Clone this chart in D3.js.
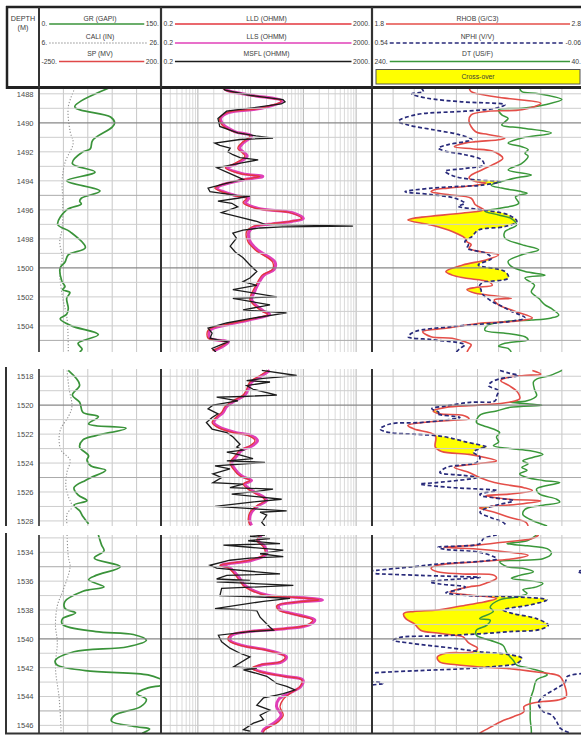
<!DOCTYPE html>
<html>
<head>
<meta charset="utf-8">
<script src="https://cdn.jsdelivr.net/npm/d3@7"></script>
<style>
  html, body { margin: 0; padding: 0; background: #fff; }
  svg { display: block; font-family: "Liberation Sans", Arial, sans-serif; }
</style>
</head>
<body>
<svg id="chart" width="581" height="735"></svg>
<script>
// depth window of each of the three log sections (m)
const DEPTH_RANGES = [[1487.6, 1505.8], [1517.5, 1528.35], [1532.8, 1546.6]];

// header: [mnemonic, left scale, right scale]
const HEAD_T1 = [["GR (GAPI)", "0.", "150."], ["CALI (IN)", "6.", "26."], ["SP (MV)", "-250.", "200."]];
const HEAD_T2 = [["LLD (OHMM)", "0.2", "2000."], ["LLS (OHMM)", "0.2", "2000."], ["MSFL (OHMM)", "0.2", "2000."]];
const HEAD_T3 = [["RHOB (G/C3)", "1.8", "2.8"], ["NPHI (V/V)", "0.54", "-0.06"], ["DT (US/F)", "240.", "40."]];

// ---- section 1 : [depth, value]
const GR_1 = [[1487.6,86],[1488.9,44],[1489.6,88],[1490.0,93],[1490.3,90],[1491.2,66],[1491.8,63],[1492.0,54],[1492.8,41],[1493.4,69],[1494.0,34],[1494.7,75],[1495.2,52],[1495.4,50],[1495.6,52],[1496.0,34],[1497.0,23],[1497.5,38],[1498.6,57],[1499.1,36],[1499.6,32],[1500.0,26],[1500.9,28],[1501.3,32],[1501.5,29],[1501.7,38],[1502.1,34],[1502.8,36],[1503.2,34],[1503.5,26],[1504.0,40],[1504.6,73],[1505.2,48],[1505.6,53],[1505.8,50]];
const CALI_1 = [[1487.6,11.9],[1488.9,10.8],[1490.6,11.1],[1491.4,11.6],[1492.7,10.3],[1493.9,9.8],[1495.4,9.9],[1497.3,9.8],[1498.2,9.4],[1499.3,9.8],[1500.3,9.4],[1502.1,9.9],[1503.5,10.6],[1505.8,10.8]];
const LLD_1 = [[1487.6,3.0],[1487.75,3.3],[1488.1,9.7],[1488.5,38],[1489.0,15.1],[1489.3,3.5],[1489.7,2.6],[1490.1,2.8],[1490.6,4.6],[1490.9,9.7],[1491.4,6.7],[1491.75,5.7],[1492.3,7.8],[1492.9,4.4],[1493.1,3.3],[1493.5,6.3],[1493.7,15],[1493.9,7.2],[1494.3,2.6],[1494.5,2.1],[1495.0,4.6],[1495.2,8.4],[1495.5,7.2],[1495.9,12.6],[1496.2,56],[1496.6,93],[1496.8,56],[1497.0,20],[1497.15,11],[1497.5,8.4],[1498.2,8.9],[1498.8,12.6],[1499.6,26],[1500.1,26],[1500.5,16.5],[1501.2,12.6],[1501.6,11],[1502.2,9.7],[1503.0,16.5],[1503.2,21],[1503.6,8.4],[1503.9,3.5],[1504.3,1.56],[1504.85,1.56],[1505.1,3.5],[1505.4,2.8],[1505.7,1.9]];
const LLS_1 = [[1487.6,3.2],[1487.75,3.5],[1488.1,10.5],[1488.5,40],[1489.0,16],[1489.3,3.8],[1489.7,2.7],[1490.1,3.0],[1490.6,5.0],[1490.9,10.5],[1491.4,7.2],[1491.75,6.2],[1492.3,8.6],[1492.9,4.8],[1493.1,3.6],[1493.5,7.0],[1493.7,17],[1493.9,8.0],[1494.3,2.8],[1494.5,2.3],[1495.0,5.0],[1495.2,9.2],[1495.5,8.0],[1495.9,14],[1496.2,62],[1496.6,100],[1496.8,60],[1497.0,22],[1497.15,12],[1497.5,9.3],[1498.2,9.8],[1498.8,14],[1499.6,29],[1500.1,28],[1500.5,18],[1501.2,13.5],[1501.6,12],[1502.2,10.5],[1503.0,18],[1503.2,23],[1503.6,9.2],[1503.9,3.8],[1504.3,1.7],[1504.85,1.7],[1505.1,3.8],[1505.4,3.0],[1505.7,2.0]];
const MSFL_1 = [[1487.6,3.0],[1487.75,3.3],[1488.1,9.7],[1488.4,41],[1488.55,45],[1488.7,38],[1489.2,3.5],[1489.7,2.4],[1490.25,2.6],[1490.7,5.7],[1490.9,12.6],[1491.05,26.6],[1491.15,6.3],[1491.4,2.1],[1491.55,2.6],[1491.75,4.1],[1492.0,3.7],[1492.2,4.6],[1492.4,6.3],[1492.55,13.9],[1492.75,7.2],[1493.1,2.3],[1493.5,4.1],[1493.9,7.2],[1494.2,3.3],[1494.5,1.56],[1494.75,1.7],[1495.0,5.4],[1495.05,9.7],[1495.2,5.7],[1495.4,2.4],[1495.55,4.4],[1495.8,5.7],[1496.2,2.8],[1496.45,5.4],[1496.8,13.1],[1497.0,18.7],[1497.12,870],[1497.18,40],[1497.25,15],[1497.4,7.2],[1497.6,4.6],[1497.95,5.4],[1498.5,4.1],[1498.9,5.1],[1499.3,7.2],[1499.8,9.7],[1500.25,13.1],[1500.7,9.7],[1500.95,7.2],[1501.2,13.1],[1501.5,4.6],[1502.0,31.4],[1502.1,4.6],[1502.55,23.3],[1502.9,7.2],[1503.1,48],[1503.5,9.7],[1503.8,3.5],[1504.15,1.56],[1504.5,1.86],[1504.85,1.7],[1505.1,3.7],[1505.55,1.86],[1505.8,2.2]];
const RHOB_1 = [[1487.6,2.26],[1487.85,2.27],[1488.0,2.30],[1488.3,2.43],[1488.65,2.60],[1489.1,2.51],[1489.2,2.35],[1489.45,2.27],[1489.9,2.26],[1490.6,2.29],[1490.8,2.35],[1491.05,2.43],[1491.15,2.41],[1491.3,2.29],[1491.4,2.24],[1491.65,2.19],[1491.8,2.28],[1491.95,2.37],[1492.45,2.42],[1492.9,2.37],[1493.25,2.32],[1493.6,2.27],[1493.8,2.26],[1494.05,2.29],[1494.15,2.34],[1494.3,2.29],[1494.5,2.16],[1494.6,2.10],[1494.75,2.08],[1494.95,2.16],[1495.2,2.27],[1495.65,2.29],[1496.0,2.33],[1496.2,2.24],[1496.6,1.99],[1496.7,1.97],[1497.05,2.08],[1497.5,2.18],[1497.95,2.24],[1498.2,2.25],[1498.4,2.27],[1498.65,2.26],[1498.9,2.32],[1499.1,2.40],[1499.45,2.34],[1499.8,2.23],[1500.25,2.15],[1500.5,2.18],[1500.7,2.24],[1500.95,2.35],[1501.2,2.37],[1501.35,2.29],[1501.5,2.25],[1501.75,2.29],[1501.85,2.34],[1502.1,2.46],[1502.2,2.38],[1502.55,2.40],[1503.0,2.48],[1503.45,2.56],[1503.7,2.46],[1503.8,2.32],[1504.15,2.16],[1504.4,2.04],[1504.75,2.08],[1504.85,2.18],[1505.1,2.24],[1505.3,2.27],[1505.55,2.26],[1505.8,2.25]];
const NPHI_1 = [[1487.6,0.40],[1487.85,0.394],[1488.0,0.427],[1488.3,0.384],[1488.55,0.285],[1488.75,0.162],[1489.0,0.190],[1489.2,0.276],[1489.45,0.418],[1489.9,0.465],[1490.15,0.437],[1490.5,0.361],[1490.8,0.295],[1491.15,0.256],[1491.3,0.276],[1491.5,0.323],[1491.75,0.351],[1491.95,0.332],[1492.2,0.276],[1492.55,0.228],[1492.9,0.222],[1493.15,0.276],[1493.35,0.332],[1493.7,0.304],[1493.95,0.238],[1494.05,0.176],[1494.3,0.228],[1494.4,0.304],[1494.5,0.370],[1494.75,0.446],[1494.95,0.370],[1495.2,0.304],[1495.55,0.276],[1495.75,0.295],[1496.0,0.228],[1496.35,0.152],[1496.8,0.128],[1497.15,0.162],[1497.4,0.238],[1497.85,0.256],[1498.2,0.276],[1498.4,0.266],[1498.65,0.27],[1498.8,0.25],[1499.0,0.215],[1499.35,0.200],[1499.8,0.238],[1500.25,0.162],[1500.7,0.152],[1501.05,0.228],[1501.3,0.235],[1501.5,0.23],[1501.75,0.228],[1502.3,0.200],[1502.65,0.171],[1503.0,0.143],[1503.45,0.105],[1503.7,0.152],[1504.05,0.313],[1504.4,0.418],[1504.75,0.437],[1504.95,0.370],[1505.3,0.276],[1505.55,0.290],[1505.8,0.30]];
const DT_1 = [[1487.6,100],[1487.85,98],[1488.0,82],[1488.4,60],[1488.75,76],[1489.0,98],[1489.1,120],[1489.45,117],[1489.7,111],[1490.15,117],[1490.35,98],[1490.7,70],[1491.05,98],[1491.4,111],[1491.65,98],[1491.85,92],[1492.1,95],[1492.3,92],[1492.8,98],[1493.25,111],[1493.6,89],[1493.8,104],[1494.05,117],[1494.3,127],[1494.5,117],[1494.75,98],[1494.85,93],[1495.1,104],[1495.55,101],[1495.9,120],[1496.1,133],[1496.35,120],[1496.6,108],[1497.05,103],[1497.5,114],[1497.95,114],[1498.4,98],[1498.75,82],[1499.1,98],[1499.55,111],[1499.9,108],[1500.25,95],[1500.5,76],[1500.7,95],[1501.2,86],[1501.65,89],[1502.1,82],[1502.55,76],[1502.8,70],[1503.25,63],[1503.45,70],[1503.6,89],[1503.7,114],[1503.95,130],[1504.3,133],[1504.5,114],[1504.75,95],[1504.95,92],[1505.2,114],[1505.4,120],[1505.55,111],[1505.8,108]];

// ---- section 2
const GR_2 = [[1517.6,36],[1518.6,50],[1519.3,41],[1519.8,50],[1520.5,54],[1520.8,73],[1521.3,61],[1521.6,107],[1522.1,70],[1522.4,54],[1522.9,50],[1523.5,61],[1523.8,59],[1524.2,64],[1524.5,82],[1525.0,64],[1525.2,57],[1525.7,43],[1526.2,48],[1526.6,59],[1526.9,43],[1527.3,50],[1527.7,54],[1528.2,61]];
const CALI_2 = [[1517.6,10.6],[1518.8,10.9],[1520.1,11.4],[1520.8,10.8],[1521.6,9.6],[1522.2,9.3],[1523.1,9.6],[1523.8,11.1],[1524.6,10.6],[1525.6,10.4],[1526.3,10.8],[1527.05,11.4],[1527.5,10.6],[1528.3,10.6]];
const LLD_2 = [[1517.6,21.4],[1517.95,15.1],[1518.4,9.7],[1518.9,8.4],[1519.3,7.2],[1519.7,4.65],[1520.1,3.27],[1520.5,2.82],[1520.8,2.27],[1521.2,1.86],[1521.5,2.27],[1521.9,4.65],[1522.1,9.0],[1522.45,12.1],[1522.8,9.7],[1523.1,6.3],[1523.5,5.06],[1524.0,4.06],[1524.4,4.65],[1524.9,6.3],[1525.2,9.7],[1525.45,7.2],[1525.9,9.7],[1526.4,17.2],[1526.6,18.7],[1526.95,13.1],[1527.4,9.7],[1527.9,9.0],[1528.3,9.7]];
const LLS_2 = [[1517.6,23],[1517.95,16.5],[1518.4,10.5],[1518.9,9.0],[1519.3,7.8],[1519.7,5.0],[1520.1,3.5],[1520.5,3.0],[1520.8,2.4],[1521.2,2.0],[1521.5,2.5],[1521.9,5.3],[1522.1,10.2],[1522.45,13.5],[1522.8,10.8],[1523.1,6.9],[1523.5,5.5],[1524.0,4.4],[1524.4,5.0],[1524.9,6.8],[1525.2,10.4],[1525.45,7.8],[1525.9,10.5],[1526.4,18.5],[1526.6,20],[1526.95,14],[1527.4,10.4],[1527.9,9.6],[1528.3,10.4]];
const MSFL_2 = [[1517.6,16.3],[1517.95,74.6],[1518.05,38.8],[1518.15,17.5],[1518.3,8.4],[1518.4,23.3],[1518.65,8.4],[1518.9,11.1],[1519.3,31.4],[1519.4,7.2],[1519.45,2.27],[1519.7,5.74],[1520.0,1.93],[1520.25,1.56],[1520.6,2.41],[1520.85,1.86],[1521.2,1.45],[1521.65,1.86],[1521.9,3.54],[1522.2,4.65],[1522.7,6.29],[1522.9,5.45],[1523.1,7.17],[1523.25,3.54],[1523.4,5.74],[1523.7,11.1],[1523.85,3.54],[1523.95,18.7],[1524.2,2.11],[1524.4,4.06],[1524.75,1.93],[1525.0,2.82],[1525.35,1.93],[1525.45,7.17],[1525.7,4.06],[1525.8,26.6],[1525.95,13.1],[1526.15,4.38],[1526.5,38.8],[1526.7,10.5],[1527.0,2.11],[1527.3,48.3],[1527.4,15.1],[1527.6,20.2],[1528.1,16.3],[1528.35,18.7]];
const RHOB_2 = [[1517.6,2.56],[1517.85,2.60],[1517.95,2.52],[1518.05,2.45],[1518.3,2.41],[1518.65,2.45],[1519.1,2.49],[1519.55,2.50],[1519.8,2.45],[1520.0,2.30],[1520.15,2.15],[1520.4,2.09],[1520.6,2.12],[1520.7,2.23],[1520.95,2.26],[1521.05,2.17],[1521.2,2.04],[1521.4,1.97],[1521.65,2.00],[1522.1,2.10],[1522.9,2.10],[1523.2,2.13],[1523.4,2.26],[1523.6,2.33],[1523.85,2.39],[1524.05,2.30],[1524.3,2.19],[1524.65,2.26],[1525.0,2.31],[1525.35,2.38],[1525.7,2.52],[1525.9,2.56],[1526.15,2.45],[1526.25,2.34],[1526.5,2.45],[1526.6,2.60],[1526.85,2.49],[1527.0,2.36],[1527.1,2.31],[1527.4,2.38],[1527.75,2.45],[1528.1,2.53],[1528.35,2.54]];
const NPHI_2 = [[1517.6,0.176],[1517.8,0.148],[1517.95,0.124],[1518.2,0.180],[1518.4,0.200],[1518.65,0.209],[1519.0,0.181],[1519.35,0.185],[1519.7,0.190],[1519.8,0.261],[1520.05,0.328],[1520.25,0.370],[1520.5,0.350],[1520.6,0.355],[1520.85,0.290],[1521.05,0.340],[1521.2,0.403],[1521.3,0.489],[1521.65,0.517],[1521.9,0.489],[1522.0,0.423],[1522.15,0.342],[1522.55,0.271],[1522.9,0.214],[1523.0,0.233],[1523.25,0.252],[1523.6,0.233],[1523.95,0.242],[1524.3,0.328],[1524.65,0.347],[1524.85,0.280],[1525.0,0.242],[1525.35,0.356],[1525.45,0.403],[1525.7,0.309],[1525.8,0.233],[1525.9,0.185],[1526.15,0.233],[1526.25,0.230],[1526.4,0.195],[1526.6,0.138],[1526.85,0.176],[1527.1,0.213],[1527.4,0.233],[1527.75,0.204],[1528.1,0.167],[1528.35,0.157]];
const DT_2 = [[1517.6,60],[1517.95,71],[1518.2,84],[1518.4,87],[1518.9,86],[1519.35,84],[1519.7,93],[1519.8,109],[1519.9,93],[1520.0,79],[1520.15,109],[1520.4,122],[1520.7,138],[1521.2,141],[1521.4,135],[1521.65,125],[1521.9,119],[1522.2,122],[1522.55,120],[1522.8,125],[1523.0,109],[1523.15,90],[1523.4,78],[1523.6,87],[1523.85,97],[1524.05,92],[1524.3,98],[1524.5,93],[1524.75,100],[1525.0,93],[1525.2,78],[1525.35,62],[1525.55,74],[1525.8,84],[1526.15,81],[1526.5,65],[1526.7,62],[1526.95,81],[1527.2,95],[1527.55,97],[1527.9,90],[1528.35,74]];

// ---- section 3
const GR_3 = [[1532.8,73],[1533.5,77],[1533.9,80],[1534.4,68],[1535.0,100],[1535.6,70],[1535.9,61],[1536.4,80],[1536.6,61],[1536.7,54],[1537.4,32],[1537.9,32],[1538.2,45],[1538.6,29],[1539.0,29],[1539.5,70],[1539.7,116],[1540.1,132],[1540.55,109],[1540.9,43],[1541.5,20],[1541.8,22],[1542.2,57],[1542.5,134],[1542.75,148],[1543.0,156],[1543.2,152],[1543.4,134],[1543.8,120],[1544.2,132],[1544.7,125],[1545.3,93],[1545.7,89],[1546.1,120],[1546.25,136],[1546.55,127]];
const CALI_3 = [[1532.8,10.6],[1534.3,10.8],[1535.0,11.1],[1536.7,9.9],[1537.7,9.0],[1539.1,8.7],[1540.2,9.0],[1542.0,8.7],[1544.1,9.3],[1546.2,9.6],[1546.6,9.6]];
const LLD_3 = [[1532.8,15.1],[1533.2,13.1],[1533.6,17.2],[1534.1,18.7],[1534.55,9.7],[1534.9,2.6],[1535.1,3.8],[1535.7,5.45],[1536.3,7.2],[1536.6,9.7],[1537.0,20.2],[1537.1,55.8],[1537.3,200],[1537.45,74.6],[1537.7,31.4],[1538.0,33.6],[1538.35,74.6],[1538.7,150],[1539.05,115],[1539.3,41.6],[1539.5,8.4],[1539.75,4.06],[1540.1,3.76],[1540.45,6.29],[1540.8,20.2],[1541.25,44.9],[1541.6,36.1],[1541.8,15.1],[1542.05,10.5],[1542.3,15.1],[1542.6,41.6],[1542.85,92.8],[1543.3,86.3],[1543.8,55.8],[1544.2,41.6],[1544.7,36.1],[1545.3,41.6],[1545.75,33.6],[1546.1,23.3],[1546.3,18.7],[1546.5,17.2]];
const LLS_3 = [[1532.8,16],[1533.2,14],[1533.6,18.5],[1534.1,20],[1534.55,10.5],[1534.9,2.8],[1535.1,4.1],[1535.7,5.9],[1536.3,7.8],[1536.6,10.5],[1537.0,22],[1537.1,62],[1537.3,230],[1537.45,82],[1537.7,34],[1538.0,37],[1538.35,82],[1538.7,165],[1539.05,125],[1539.3,45],[1539.5,9.2],[1539.75,4.4],[1540.1,4.1],[1540.45,6.9],[1540.8,22],[1541.25,48],[1541.6,39],[1541.8,16.5],[1542.05,11.5],[1542.3,16.5],[1542.6,45],[1542.85,98],[1543.3,90],[1543.8,52],[1544.2,34],[1544.7,31],[1545.3,38],[1545.75,30],[1546.1,21],[1546.3,17.5],[1546.5,16.5]];
const MSFL_3 = [[1532.8,18.7],[1532.9,9.7],[1533.05,23.3],[1533.2,9.0],[1533.4,36.1],[1533.5,3.05],[1533.65,9.7],[1533.85,41.6],[1534.1,15.1],[1534.3,41.6],[1534.4,9.7],[1534.55,4.06],[1534.9,1.70],[1535.1,2.27],[1535.5,36.1],[1535.6,3.54],[1535.85,2.27],[1535.95,9.7],[1536.05,2.27],[1536.3,64.6],[1536.5,2.82],[1537.0,2.62],[1537.1,15.1],[1537.2,55.8],[1537.4,17.5],[1537.9,2.11],[1537.95,4.4],[1538.05,13.1],[1538.5,15.1],[1539.2,23.3],[1539.4,27.0],[1539.5,9.7],[1539.75,2.45],[1540.2,2.82],[1540.65,4.06],[1541.0,6.29],[1541.25,9.7],[1541.95,4.7],[1542.05,13.1],[1542.15,7.3],[1542.4,13.1],[1542.6,20.2],[1543.1,31.4],[1543.3,48.3],[1543.55,69.4],[1543.8,41.6],[1543.9,31.4],[1544.1,17.5],[1544.6,13.1],[1544.95,23.3],[1545.3,15.1],[1545.6,17.5],[1545.85,11.3],[1546.3,7.3],[1546.4,9.7]];
const RHOB_3 = [[1532.8,2.59],[1533.05,2.56],[1533.3,2.42],[1533.5,2.30],[1533.65,2.14],[1533.75,2.28],[1534.0,2.45],[1534.2,2.54],[1534.45,2.47],[1534.65,2.30],[1534.9,2.11],[1535.1,2.08],[1535.35,2.11],[1535.5,2.23],[1535.6,2.38],[1535.8,2.39],[1536.15,2.34],[1536.3,2.31],[1536.4,2.26],[1536.75,2.17],[1536.95,2.25],[1537.1,2.36],[1537.2,2.39],[1537.45,2.33],[1537.65,2.25],[1538.0,2.11],[1538.1,2.00],[1538.25,1.95],[1538.6,1.96],[1538.95,2.00],[1539.4,2.03],[1539.6,2.11],[1539.75,2.19],[1539.85,2.23],[1540.3,2.26],[1540.65,2.30],[1540.9,2.28],[1541.0,2.15],[1541.25,2.11],[1541.6,2.12],[1541.8,2.20],[1541.95,2.31],[1542.05,2.44],[1542.15,2.50],[1542.3,2.58],[1542.4,2.64],[1542.6,2.69],[1543.1,2.71],[1544.0,2.72],[1544.25,2.68],[1544.35,2.61],[1544.5,2.55],[1544.7,2.52],[1545.05,2.52],[1545.4,2.47],[1545.75,2.41],[1546.3,2.34],[1546.55,2.31]];
const NPHI_3 = [[1532.8,0.185],[1533.05,0.223],[1533.4,0.233],[1533.65,0.352],[1533.8,0.33],[1534.0,0.233],[1534.45,0.185],[1534.6,0.22],[1534.8,0.347],[1535.0,0.423],[1535.25,0.527],[1535.35,0.56],[1535.45,0.54],[1535.6,0.403],[1535.75,0.233],[1535.85,0.290],[1536.05,0.375],[1536.2,0.347],[1536.4,0.275],[1536.6,0.295],[1536.8,0.33],[1537.0,0.27],[1537.05,0.185],[1537.3,0.043],[1537.65,0.091],[1538.0,0.167],[1538.25,0.138],[1538.6,0.072],[1539.05,0.039],[1539.35,0.062],[1539.5,0.148],[1539.65,0.233],[1539.8,0.356],[1539.9,0.460],[1540.1,0.479],[1540.3,0.432],[1540.65,0.309],[1540.9,0.233],[1541.1,0.148],[1541.35,0.114],[1541.7,0.128],[1541.9,0.185],[1542.05,0.261],[1542.2,0.403],[1542.35,0.527],[1542.45,0.56],[1542.9,0.56],[1543.0,0.52],[1543.1,0.51],[1543.2,0.54],[1543.3,0.56]];
// wrapped (backup) part of NPHI, shown at the right side of the track, no shading
const NPHI_WRAP_3 = [[1535.25,-0.06],[1535.35,-0.045],[1535.45,-0.06],[1535.5,null],[1542.4,-0.06],[1542.63,-0.014],[1543.0,-0.01],[1543.43,0.015],[1544.0,0.053],[1544.47,0.067],[1545.05,0.053],[1545.28,0.029],[1545.74,0.015],[1546.2,0.005],[1546.5,-0.02]];
const DT_3 = [[1532.8,84],[1533.2,93],[1533.4,112],[1533.55,93],[1533.75,74],[1534.1,70],[1534.45,78],[1534.55,97],[1534.65,119],[1535.0,112],[1535.1,97],[1535.35,87],[1535.6,100],[1535.8,108],[1535.95,93],[1536.15,78],[1536.4,84],[1536.6,97],[1536.85,93],[1537.1,103],[1537.3,119],[1537.8,128],[1538.1,125],[1538.6,138],[1538.7,128],[1539.05,131],[1539.4,141],[1539.75,141],[1540.1,128],[1540.45,116],[1541.0,112],[1541.5,106],[1541.8,103],[1542.05,90],[1542.3,78],[1542.5,74],[1542.85,84],[1543.55,87],[1544.25,90],[1544.95,90],[1545.6,90],[1546.3,89],[1546.6,89]];

// ---------------- layout
const W = 581, H = 735;
const X_T1 = 39, X_T2 = 161, X_T3 = 372, X_END = 583;
const PANEL_BOX = [[88, 352], [369, 526], [535, 734]];
const FONT = "'Liberation Sans', Arial, sans-serif";

const C_GR = "#3a933a", C_CALI = "#909090", C_SP = "#e04848",
      C_LLD = "#e3363c", C_LLS = "#e040b8", C_MSFL = "#1c1c1c",
      C_RHOB = "#e44e48", C_NPHI = "#282a7a", C_DT = "#3a983a";

// scales
const xGR   = d3.scaleLinear([0, 150], [X_T1, X_T2]);
const xCALI = d3.scaleLinear([6, 26], [X_T1, X_T2]);
const xRES  = d3.scaleLog([0.2, 2000], [X_T2, X_T3]);
const xRHOB = d3.scaleLinear([1.8, 2.8], [X_T3, X_END]);
const xNPHI = d3.scaleLinear([0.54, -0.06], [X_T3, X_END]);
const xDT   = d3.scaleLinear([240, 40], [X_T3, X_END]);

const smooth = d3.curveCatmullRom.alpha(0.5);

const svg = d3.select("#chart");
const defs = svg.append("defs");
svg.append("rect").attr("width", W).attr("height", H).attr("fill", "#fff");

const panels = DEPTH_RANGES.map((range, i) => ({
    range: range,
    box: PANEL_BOX[i],
    gr: [GR_1, GR_2, GR_3][i],
    cali: [CALI_1, CALI_2, CALI_3][i],
    lld: [LLD_1, LLD_2, LLD_3][i],
    lls: [LLS_1, LLS_2, LLS_3][i],
    msfl: [MSFL_1, MSFL_2, MSFL_3][i],
    rhob: [RHOB_1, RHOB_2, RHOB_3][i],
    nphi: [NPHI_1, NPHI_2, NPHI_3][i],
    nphiWrap: [null, null, NPHI_WRAP_3][i],
    dt: [DT_1, DT_2, DT_3][i]
}));

panels.forEach((p, i) => {
    const [top, bot] = p.box;
    const y = d3.scaleLinear(p.range, [top, bot]);
    const g = svg.append("g");

    // clip rect per track
    const tracks = [[X_T1, X_T2], [X_T2, X_T3], [X_T3, X_END]].map((t, k) => {
        const id = `clip-${i}-${k}`;
        defs.append("clipPath").attr("id", id)
            .append("rect").attr("x", t[0]).attr("y", top).attr("width", t[1] - t[0]).attr("height", bot - top);
        return g.append("g").attr("clip-path", `url(#${id})`);
    });

    // vertical grid
    tracks[0].selectAll("line.v").data([30, 60, 90, 120]).join("line")
        .attr("x1", d => xGR(d)).attr("x2", d => xGR(d)).attr("y1", top).attr("y2", bot)
        .attr("stroke", "#c8c8c8").attr("stroke-width", 1);
    const logTicks = xRES.ticks().filter(v => v > 0.2 && v < 2000);
    tracks[1].selectAll("line.v").data(logTicks).join("line")
        .attr("x1", d => xRES(d)).attr("x2", d => xRES(d)).attr("y1", top).attr("y2", bot)
        .attr("stroke", d => [1, 10, 100, 1000].includes(d) ? "#ababab" : "#d6d6d6")
        .attr("stroke-width", 0.9);
    tracks[2].selectAll("line.v").data(d3.range(1, 10).map(k => 1.8 + k / 10)).join("line")
        .attr("x1", d => xRHOB(d)).attr("x2", d => xRHOB(d)).attr("y1", top).attr("y2", bot)
        .attr("stroke", "#c8c8c8").attr("stroke-width", 1);

    // horizontal grid every metre
    const metres = d3.range(Math.ceil(p.range[0]), p.range[1], 1);
    g.selectAll("line.h").data(metres).join("line")
        .attr("x1", X_T1).attr("x2", X_END).attr("y1", d => y(d)).attr("y2", d => y(d))
        .attr("stroke", d => d % 10 === 0 ? "#888" : d % 5 === 0 ? "#aaa" : "#cdcdcd")
        .attr("stroke-width", d => d % 10 === 0 ? 1.3 : 1);

    const line = (xs, curve) => d3.line()
        .defined(d => d[1] != null)
        .y(d => y(d[0])).x(d => xs(d[1]))
        .curve(curve);

    // track 1 : GR + CALI
    tracks[0].append("path").attr("d", line(xCALI, smooth)(p.cali))
        .attr("fill", "none").attr("stroke", C_CALI).attr("stroke-width", 1.1).attr("stroke-dasharray", "1.2,1.8");
    tracks[0].append("path").attr("d", line(xGR, smooth)(p.gr))
        .attr("fill", "none").attr("stroke", C_GR).attr("stroke-width", 1.7);

    // track 2 : resistivities
    tracks[1].append("path").attr("d", line(xRES, smooth)(p.lls))
        .attr("fill", "none").attr("stroke", C_LLS).attr("stroke-width", 3);
    tracks[1].append("path").attr("d", line(xRES, smooth)(p.lld))
        .attr("fill", "none").attr("stroke", C_LLD).attr("stroke-width", 1.3);
    tracks[1].append("path").attr("d", line(xRES, d3.curveLinear)(p.msfl))
        .attr("fill", "none").attr("stroke", C_MSFL).attr("stroke-width", 1.3);

    // track 3 : density / neutron cross-over shading
    const nid = `nclip-${i}`;
    defs.append("clipPath").attr("id", nid).append("path")
        .attr("d", d3.area().y(d => y(d[0])).x0(X_T3 - 20).x1(d => xNPHI(d[1])).curve(smooth)(p.nphi));
    tracks[2].append("path")
        .attr("d", d3.area().y(d => y(d[0])).x0(d => xRHOB(d[1])).x1(X_END + 20).curve(smooth)(p.rhob))
        .attr("fill", "#ffff00").attr("clip-path", `url(#${nid})`);

    tracks[2].append("path").attr("d", line(xDT, smooth)(p.dt))
        .attr("fill", "none").attr("stroke", C_DT).attr("stroke-width", 1.5);
    tracks[2].append("path").attr("d", line(xRHOB, smooth)(p.rhob))
        .attr("fill", "none").attr("stroke", C_RHOB).attr("stroke-width", 1.6);
    tracks[2].append("path").attr("d", line(xNPHI, smooth)(p.nphi))
        .attr("fill", "none").attr("stroke", C_NPHI).attr("stroke-width", 1.7).attr("stroke-dasharray", "4,2.5");
    if (p.nphiWrap) {
        tracks[2].append("path").attr("d", line(xNPHI, smooth)(p.nphiWrap))
            .attr("fill", "none").attr("stroke", C_NPHI).attr("stroke-width", 1.7).attr("stroke-dasharray", "4,2.5");
    }

    // depth labels
    const axis = d3.axisLeft(y)
        .tickValues(d3.range(Math.ceil(p.range[0] / 2) * 2, p.range[1], 2))
        .tickSize(0).tickPadding(0).tickFormat(d3.format("d"));
    const ag = g.append("g").attr("transform", "translate(33.5,0)").call(axis);
    ag.select(".domain").remove();
    ag.attr("font-size", 7.5).attr("font-family", FONT);
    ag.selectAll("text").attr("fill", "#4a4a4a");

    // track borders
    g.append("line").attr("x1", X_T1).attr("x2", X_T1).attr("y1", top).attr("y2", bot)
        .attr("stroke", "#444").attr("stroke-width", 1.8);
    [X_T2, X_T3].forEach(x => g.append("line").attr("x1", x).attr("x2", x).attr("y1", top).attr("y2", bot)
        .attr("stroke", "#333").attr("stroke-width", 2));
    if (i > 0) {
        g.append("line").attr("x1", 6).attr("x2", 6).attr("y1", top - 2).attr("y2", bot)
            .attr("stroke", "#333").attr("stroke-width", 2);
    }
    if (i === 2) {
        g.append("line").attr("x1", 5).attr("x2", W).attr("y1", bot - 0.5).attr("y2", bot - 0.5)
            .attr("stroke", "#333").attr("stroke-width", 2);
    }
});

// ---------------- header
const head = svg.append("g").attr("font-family", FONT).attr("font-size", 6.8).attr("fill", "#3a3a3a");
head.append("rect").attr("x", 0).attr("y", 0).attr("width", W).attr("height", 87).attr("fill", "#fff");

head.append("text").attr("x", 23).attr("y", 20.5).attr("text-anchor", "middle").attr("font-size", 7.2).text("DEPTH");
head.append("text").attr("x", 23).attr("y", 29.5).attr("text-anchor", "middle").attr("font-size", 7.2).text("(M)");

const ROW_TITLE = [20.5, 39, 56];
const ROW_LINE = [24, 43, 61.5];

function headerTrack(x0, x1, rows, styles) {
    rows.forEach((r, k) => {
        head.append("text").attr("x", (x0 + x1) / 2).attr("y", ROW_TITLE[k]).attr("text-anchor", "middle").text(r[0]);
        const lt = head.append("text").attr("x", x0 + 2.5).attr("y", ROW_LINE[k] + 2.4).text(r[1]);
        const rt = head.append("text").attr("x", x1 - 2).attr("y", ROW_LINE[k] + 2.4).attr("text-anchor", "end").text(r[2]);
        const a = x0 + 2.5 + lt.node().getComputedTextLength() + 2;
        const b = x1 - 2 - rt.node().getComputedTextLength() - 1.5;
        head.append("line").attr("x1", a).attr("x2", b).attr("y1", ROW_LINE[k]).attr("y2", ROW_LINE[k])
            .attr("stroke", styles[k][0]).attr("stroke-width", styles[k][1])
            .attr("stroke-dasharray", styles[k][2] || null);
    });
}
headerTrack(X_T1, X_T2, HEAD_T1, [[C_GR, 1.4], [C_CALI, 1, "1.5,1.5"], [C_SP, 1.4]]);
headerTrack(X_T2, X_T3, HEAD_T2, [[C_LLD, 1.4], [C_LLS, 1.6], [C_MSFL, 1.3]]);
headerTrack(X_T3, X_END, HEAD_T3, [[C_RHOB, 1.4], [C_NPHI, 1.6, "4,2.5"], [C_DT, 1.4]]);

head.append("rect").attr("x", 376).attr("y", 69.5).attr("width", 204).attr("height", 14.5)
    .attr("fill", "#ffff00").attr("stroke", "#555").attr("stroke-width", 1);
head.append("text").attr("x", 478).attr("y", 79.3).attr("text-anchor", "middle").text("Cross-over");

// header frame
head.append("line").attr("x1", 6).attr("x2", W).attr("y1", 7).attr("y2", 7).attr("stroke", "#222").attr("stroke-width", 2.5);
head.append("line").attr("x1", 6).attr("x2", W).attr("y1", 87.5).attr("y2", 87.5).attr("stroke", "#222").attr("stroke-width", 3);
head.append("line").attr("x1", 7).attr("x2", 7).attr("y1", 6).attr("y2", 89).attr("stroke", "#222").attr("stroke-width", 2.5);
[[X_T1, 2], [X_T2, 2.2], [X_T3, 2.2]].forEach(([x, w]) =>
    head.append("line").attr("x1", x).attr("x2", x).attr("y1", 7).attr("y2", 88).attr("stroke", "#333").attr("stroke-width", w));
</script>
</body>
</html>
